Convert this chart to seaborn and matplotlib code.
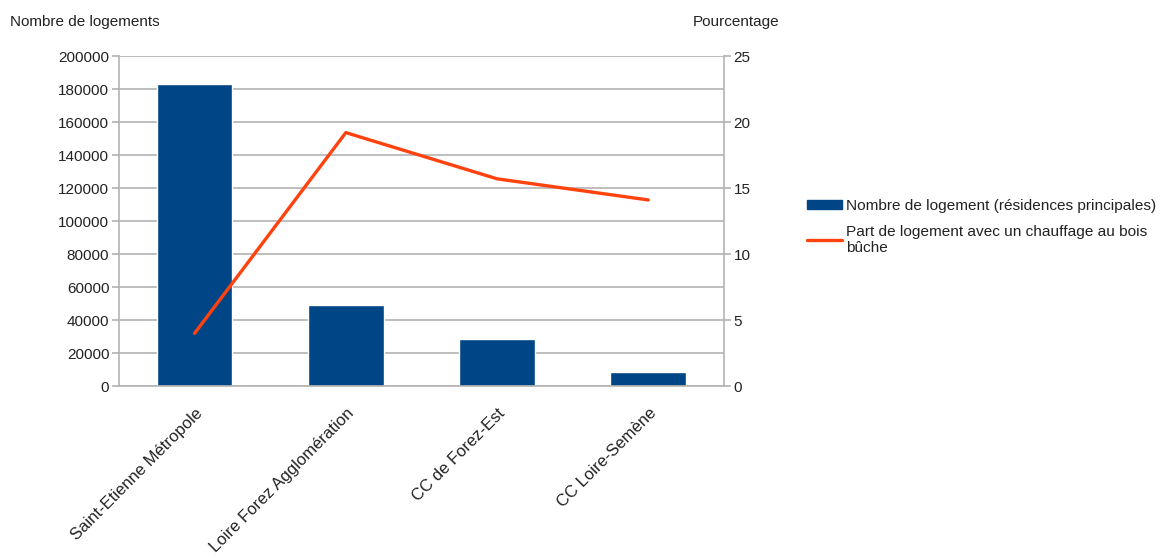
import matplotlib
matplotlib.use("Agg")
import matplotlib.pyplot as plt
from matplotlib.patches import Patch
from matplotlib.lines import Line2D
import pandas as pd
import seaborn as sns

# data
territoires = ["Saint-Etienne Métropole", "Loire Forez Agglomération",
               "CC de Forez-Est", "CC Loire-Semène"]
logements = [182800, 48900, 28400, 8400]
part_bois = [4.0, 19.2, 15.7, 14.1]

bar_lbl = "Nombre de logement (résidences principales)"
line_lbl = "Part de logement avec un chauffage au bois\nbûche"

df = pd.DataFrame({"territoire": territoires, "logements": logements,
                   "part": part_bois})

sns.set_style("white")
plt.rcParams["font.family"] = ["Liberation Sans", "DejaVu Sans"]
plt.rcParams["font.size"] = 11
grid_c = "#b3b3b3"
txt_c = "#222222"

fig = plt.figure(figsize=(11.71, 5.58), dpi=100)
ax = fig.add_axes([0.1016, 0.308, 0.5166, 0.5916])
ax2 = ax.twinx()

sns.barplot(data=df, x="territoire", y="logements", color="#004586",
            width=0.5, saturation=1, ax=ax)
sns.lineplot(data=df, x="territoire", y="part", color="#ff420e",
             linewidth=2.4, ax=ax2)

ax.set_xlim(-0.5, 3.5)
ax.set_ylim(0, 200000)
ax.set_yticks(range(0, 200001, 20000))
ax2.set_ylim(0, 25)
ax2.set_yticks(range(0, 26, 5))

ax.yaxis.grid(True, color=grid_c, linewidth=1.2)
ax.set_axisbelow(True)
for a in (ax, ax2):
    for s in a.spines.values():
        s.set_visible(False)
    a.set_xlabel("")
    a.set_ylabel("")
for a, side in ((ax, "left"), (ax, "bottom"), (ax2, "right")):
    a.spines[side].set_visible(True)
    a.spines[side].set_color(grid_c)
    a.spines[side].set_linewidth(1.2)

ax.tick_params(axis="y", length=5, color=grid_c, width=1.2,
               labelcolor=txt_c, labelsize=11, pad=2)
ax2.tick_params(axis="y", length=5, color=grid_c, width=1.2,
                labelcolor=txt_c, labelsize=11, pad=2)

# category labels at centers, ticks at boundaries
ax.set_xticks(range(len(territoires)))
ax.set_xticklabels(territoires, rotation=45, ha="right",
                   rotation_mode="anchor", color=txt_c, fontsize=12)
ax.tick_params(axis="x", which="major", length=0, pad=14)
ax.set_xticks([i - 0.5 for i in range(len(territoires) + 1)], minor=True)
ax.tick_params(axis="x", which="minor", length=6, color=grid_c, width=1.2)

fig.text(10 / 1171, 1 - 22 / 558, "Nombre de logements", fontsize=11,
         color=txt_c, va="center", ha="left")
fig.text(693 / 1171, 1 - 22 / 558, "Pourcentage", fontsize=11,
         color=txt_c, va="center", ha="left")

handles = [Patch(facecolor="#004586", edgecolor="#004586"),
           Line2D([], [], color="#ff420e", linewidth=2.4)]
fig.legend(handles, [bar_lbl, line_lbl], loc="center left",
           bbox_to_anchor=(799 / 1171, 1 - 227 / 558), frameon=False,
           fontsize=11.1, handlelength=2.3, handleheight=0.55,
           handletextpad=0.25, labelspacing=0.75, borderpad=0,
           labelcolor=txt_c)

fig.savefig("out.png", dpi=100)
